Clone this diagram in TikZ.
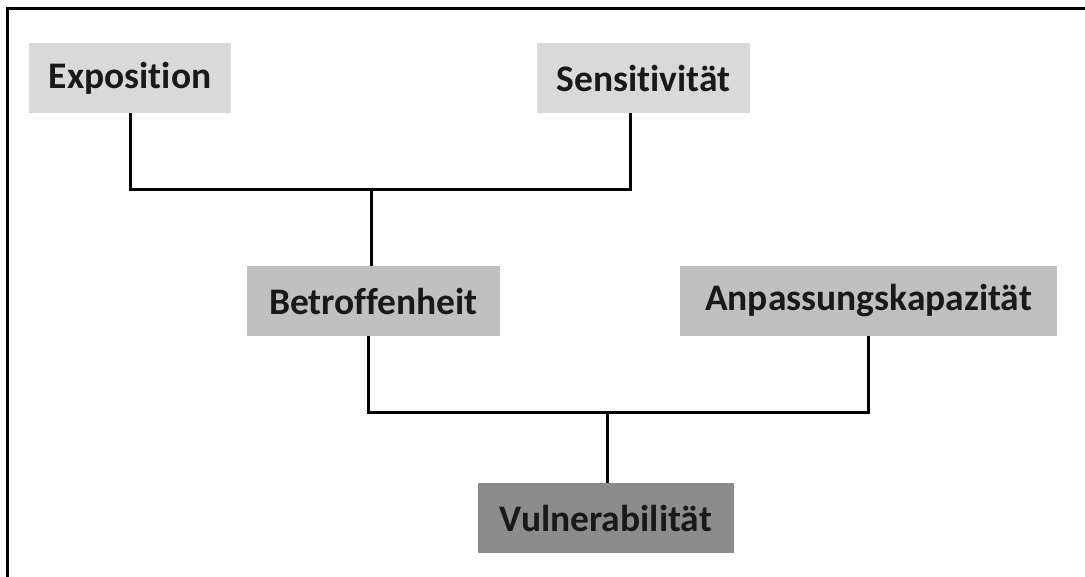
\documentclass[tikz,border=0pt]{standalone}
\usepackage{fontspec}
\setmainfont[Ligatures={NoCommon}]{Carlito}
\usetikzlibrary{calc}
\definecolor{boxlight}{HTML}{D9D9D9}
\definecolor{boxmid}{HTML}{C0C0C0}
\definecolor{boxdark}{HTML}{8C8C8C}
\begin{document}
\begin{tikzpicture}[x=1pt,y=-1pt,
  box/.style={inner sep=0pt, minimum height=70pt, font=\fontsize{37.5}{40}\selectfont\bfseries, text=black!90},
  link/.style={line width=3pt, draw=black},
  frame/.style={line width=3pt, draw=black}]
\useasboundingbox (0,0) rectangle (1085,577);
\fill[white] (0,0) rectangle (1085,577);
\draw[frame] (1085,9) -- (7,9) -- (7,577);
\node[box, fill=boxlight, minimum width=202pt] (expo) at (130,78) {Exposition\hspace{8pt}};
\node[box, fill=boxlight, minimum width=213pt] (sens) at (643.5,78) {Sensitivität};
\node[box, fill=boxmid, minimum width=253pt] (betr) at (373.5,301) {Betroffenheit};
\node[box, fill=boxmid, minimum width=377pt] (anpa) at (868.5,301) {Anpassungskapazität};
\node[box, fill=boxdark, minimum width=256pt] (vuln) at (606,518) {Vulnerabilität};
\coordinate (j1) at (371,190);
\coordinate (j2) at (607,413);
\draw[link] (expo.south) -- (expo.south |- j1) -- ($(sens.south |- j1)+(-13.5,0)$) -- ($(sens.south)+(-13.5,0)$);
\draw[link] (j1) -- (j1 |- betr.north);
\draw[link] ($(betr.south)+(-5.5,0)$) -- ($(betr.south |- j2)+(-5.5,0)$) -- ($(anpa.south |- j2)+(-0.5,0)$) -- ($(anpa.south)+(-0.5,0)$);
\draw[link] (j2) -- (j2 |- vuln.north);
\end{tikzpicture}
\end{document}
